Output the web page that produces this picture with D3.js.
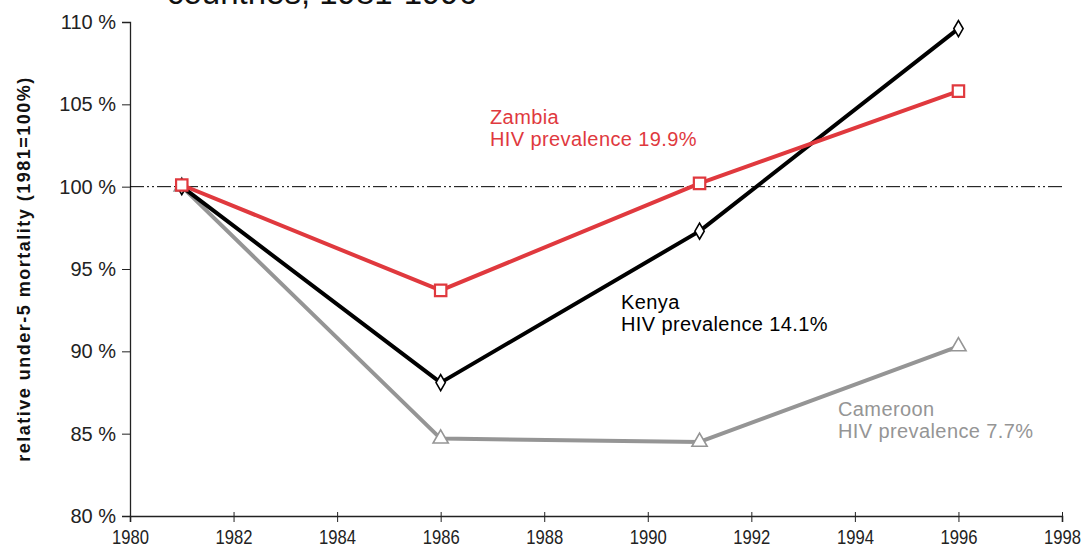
<!DOCTYPE html>
<html lang="en">
<head>
<meta charset="UTF-8">
<title>Relative under-5 mortality</title>
<style>
  body { margin: 0; background: #fff; }
  svg { font-family: 'Liberation Sans', Arial, sans-serif; display: block; }
</style>
</head>
<body>
<svg width="1083" height="550"></svg>
<script src="https://d3js.org/d3.v7.min.js"></script>
<script>
  // data
  var years = [1981, 1986, 1991, 1996];
  var zambia = [100.1, 93.7, 100.2, 105.8];
  var kenya = [100.0, 88.1, 97.3, 109.6];
  var cameroon = [100.0, 84.7, 84.5, 90.3];
  var xTicks = [1980, 1982, 1984, 1986, 1988, 1990, 1992, 1994, 1996, 1998];
  var yTicks = [80, 85, 90, 95, 100, 105, 110];

  var series = [
    {name: "Cameroon", values: cameroon, color: "#959595", marker: "triangle",
     label: ["Cameroon", "HIV prevalence 7.7%"], lx: 838, ly: 416},
    {name: "Kenya", values: kenya, color: "#000000", marker: "diamond",
     label: ["Kenya", "HIV prevalence 14.1%"], lx: 621, ly: 309},
    {name: "Zambia", values: zambia, color: "#e0393e", marker: "square",
     label: ["Zambia", "HIV prevalence 19.9%"], lx: 490, ly: 124}
  ];

  var svg = d3.select("svg");
  var mLeft = 130, mRight = 1062, mTop = 22, mBottom = 516;

  var x = d3.scaleLinear().domain([1980, 1998]).range([mLeft, mRight]);
  var y = d3.scaleLinear().domain([80, 110]).range([mBottom, mTop]);

  // title, cut by the top edge as in the original
  svg.append("text")
    .attr("x", 167).attr("y", 4)
    .attr("font-size", 33)
    .attr("fill", "#111")
    .text("countries, 1981-1996");

  // y axis
  var yAxis = svg.append("g")
    .attr("transform", "translate(" + mLeft + ",0)")
    .call(d3.axisLeft(y).tickValues(yTicks).tickSize(8).tickPadding(6)
      .tickFormat(function (d) { return d + " %"; }));
  yAxis.select(".domain").attr("stroke", "#222").attr("stroke-width", 1.3);
  yAxis.selectAll(".tick line").attr("stroke", "#222");
  yAxis.selectAll(".tick text")
    .attr("font-family", "'Liberation Sans', Arial, sans-serif")
    .attr("font-size", 20).attr("fill", "#222");

  // x axis (labels are squeezed like the original condensed face)
  var xAxis = svg.append("g")
    .attr("transform", "translate(0," + mBottom + ")")
    .call(d3.axisBottom(x).tickValues(xTicks).tickSize(6).tickPadding(8)
      .tickFormat(d3.format("d")));
  xAxis.select(".domain").attr("stroke", "#222").attr("stroke-width", 1.6);
  xAxis.selectAll(".tick line").attr("stroke", "#222").attr("y1", -4);
  xAxis.selectAll(".tick text")
    .attr("font-family", "'Liberation Sans', Arial, sans-serif")
    .attr("font-size", 20).attr("fill", "#222")
    .attr("textLength", 37)
    .attr("lengthAdjust", "spacingAndGlyphs");

  // axis title
  svg.append("text")
    .attr("transform", "translate(30," + (mTop + mBottom) / 2 + ") rotate(-90)")
    .attr("text-anchor", "middle")
    .attr("font-size", 18)
    .attr("font-weight", "bold")
    .attr("letter-spacing", 1.5)
    .attr("fill", "#111")
    .text("relative under-5 mortality (1981=100%)");

  // 100% reference line
  svg.append("line")
    .attr("x1", x(1980)).attr("x2", x(1998))
    .attr("y1", y(100)).attr("y2", y(100))
    .attr("stroke", "#000")
    .attr("stroke-width", 1)
    .attr("stroke-dasharray", "14,3,2,3,2,3");

  var line = d3.line()
    .x(function (d, i) { return x(years[i]); })
    .y(function (d) { return y(d); });

  series.forEach(function (s) {
    var g = svg.append("g");
    g.append("path")
      .datum(s.values)
      .attr("d", line)
      .attr("fill", "none")
      .attr("stroke", s.color)
      .attr("stroke-width", 4)
      .attr("stroke-linejoin", "round");

    var sym;
    if (s.marker === "square") sym = d3.symbol().type(d3.symbolSquare).size(130);
    else if (s.marker === "diamond") sym = d3.symbol().type(d3.symbolDiamond).size(75);
    else sym = d3.symbol().type(d3.symbolTriangle).size(100);

    g.selectAll("path.mark")
      .data(s.values)
      .enter().append("path")
      .attr("class", "mark")
      .attr("d", sym)
      .attr("transform", function (d, i) {
        return "translate(" + x(years[i]) + "," + y(d) + ")";
      })
      .attr("fill", "#fff")
      .attr("stroke", s.color)
      .attr("stroke-width", s.marker === "square" ? 2.2 : 1.6);

    var t = svg.append("text")
      .attr("x", s.lx).attr("y", s.ly)
      .attr("font-size", 20)
      .attr("letter-spacing", 0.4)
      .attr("fill", s.color);
    s.label.forEach(function (l, i) {
      t.append("tspan").attr("x", s.lx).attr("dy", i === 0 ? 0 : 22).text(l);
    });
  });
</script>
</body>
</html>
